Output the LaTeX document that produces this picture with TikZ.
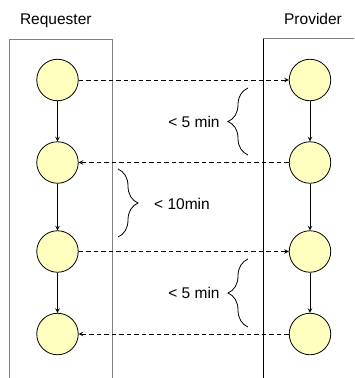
\documentclass[tikz,border=0pt]{standalone}
\usepackage{fontspec}
\setmainfont{Liberation Sans}
\usetikzlibrary{arrows,decorations.pathreplacing}
\definecolor{stepfill}{HTML}{FFFFC0}
\definecolor{lanegray}{HTML}{808080}

\begin{document}
\begin{tikzpicture}[>=stealth, x=1pt, y=-1pt]
	\tikzstyle{lane} = [lanegray, line width=1pt]
	\tikzstyle{state} = [circle, draw=black, fill=stepfill, minimum size=41.5pt, inner sep=0, line width=0.8pt]
	\tikzstyle{flow} = [->, black, line width=1pt]
	\tikzstyle{msg} = [->, black, line width=1pt, dash pattern=on 4.5pt off 3pt]
	\tikzstyle{span} = [black, line width=0.8pt, decorate, decoration={brace,amplitude=20pt}]
	\tikzstyle{title} = [font=\fontsize{15.5}{18}\selectfont, anchor=base, inner sep=0]
	\tikzstyle{delay} = [font=\fontsize{15.5}{18}\selectfont, anchor=base, inner sep=0]
	\useasboundingbox (0,0) rectangle (354,378);

	% swim lanes
	\draw [lane] (9.5,378) -- (9.5,39) -- (112,39) -- (112,378);
	\draw [lane] (263,38.5) -- (354,38.5);
	\draw [black, line width=1pt] (263,38.5) -- (263,378);

	\node [title] (req) at (55.8,24.3) {Requester};
	\node [title] (prov) at (313,24.3) {Provider};

	\node [state] (r1) at (57.5,80) {};
	\node [state] (r2) at (57.5,162.5) {};
	\node [state] (r3) at (57.5,251.5) {};
	\node [state] (r4) at (57.5,334) {};

	\node [state] (p1) at (310,80) {};
	\node [state] (p2) at (310,162.5) {};
	\node [state] (p3) at (310,251.5) {};
	\node [state] (p4) at (310,334) {};

	\draw [flow] (r1) edge (r2);
	\draw [flow] (r2) edge (r3);
	\draw [flow] (r3) edge (r4);
	\draw [flow] (p1) edge (p2);
	\draw [flow] (p2) edge (p3);
	\draw [flow] (p3) edge (p4);

	\draw [msg] (r1) edge (p1);
	\draw [msg] (p2) edge (r2);
	\draw [msg] (r3) edge (p3);
	\draw [msg] (p4) edge (r4);

	% braces
	\coordinate (b1s) at (248,155);
	\coordinate (b1e) at (248,88);
	\coordinate (b2s) at (118,169);
	\coordinate (b2e) at (118,237);
	\coordinate (b3s) at (248,327);
	\coordinate (b3e) at (248,259);
	\draw [span] (b1s) -- (b1e);
	\draw [span] (b2s) -- (b2e);
	\draw [span] (b3s) -- (b3e);

	\node [delay] (d1) at (194,127.5) {< 5 min};
	\node [delay] (d2) at (182,209) {< 10min};
	\node [delay] (d3) at (194,298.5) {< 5 min};
\end{tikzpicture}
\end{document}
